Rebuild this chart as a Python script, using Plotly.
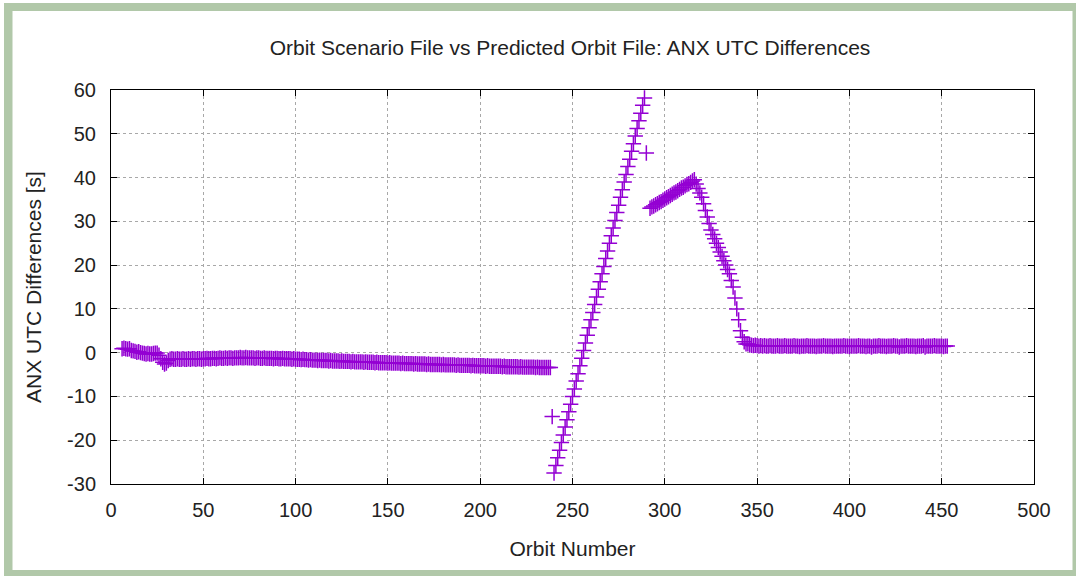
import plotly.graph_objects as go

# ---- data ----
# Part A: orbits 6 .. 290 (one value per orbit)
part_a_start = 6
part_a_values = [
    0.9, 1.0, 0.9, 0.8, 0.9, 0.5, 0.4, 0.3, 0.1, 0.2,
    0.0, -0.1, -0.2, -0.3, -0.2, -0.3, -0.3, -0.2, -0.1, -0.1,
    -0.6, -1.4, -2.2, -2.6, -2.4, -1.8, -1.5, -1.4, -1.5, -1.5,
    -1.4, -1.5, -1.5, -1.4, -1.5, -1.5, -1.4, -1.5, -1.4, -1.4,
    -1.5, -1.4, -1.4, -1.5, -1.4, -1.4, -1.3, -1.4, -1.4, -1.3,
    -1.3, -1.4, -1.3, -1.2, -1.3, -1.3, -1.2, -1.3, -1.2, -1.2,
    -1.3, -1.2, -1.2, -1.2, -1.1, -1.2, -1.2, -1.1, -1.2, -1.2,
    -1.2, -1.2, -1.3, -1.2, -1.2, -1.3, -1.3, -1.2, -1.3, -1.3,
    -1.3, -1.3, -1.4, -1.3, -1.3, -1.4, -1.4, -1.3, -1.4, -1.4,
    -1.4, -1.4, -1.5, -1.4, -1.5, -1.5, -1.5, -1.6, -1.5, -1.6,
    -1.6, -1.7, -1.6, -1.7, -1.7, -1.7, -1.8, -1.7, -1.8, -1.8,
    -1.8, -1.8, -1.9, -1.8, -1.9, -1.9, -1.9, -1.9, -2.0, -1.9,
    -2.0, -2.0, -2.0, -2.0, -2.1, -2.0, -2.1, -2.1, -2.1, -2.1,
    -2.1, -2.2, -2.1, -2.2, -2.2, -2.2, -2.2, -2.3, -2.2, -2.3,
    -2.3, -2.3, -2.3, -2.3, -2.4, -2.3, -2.4, -2.4, -2.4, -2.4,
    -2.4, -2.5, -2.4, -2.5, -2.5, -2.5, -2.5, -2.5, -2.6, -2.5,
    -2.6, -2.6, -2.6, -2.6, -2.6, -2.7, -2.6, -2.7, -2.7, -2.7,
    -2.7, -2.7, -2.7, -2.8, -2.7, -2.8, -2.8, -2.8, -2.8, -2.8,
    -2.8, -2.9, -2.8, -2.9, -2.9, -2.9, -2.9, -2.9, -2.9, -3.0,
    -2.9, -3.0, -3.0, -3.0, -3.0, -3.0, -3.0, -3.1, -3.0, -3.1,
    -3.1, -3.1, -3.1, -3.1, -3.1, -3.1, -3.2, -3.1, -3.2, -3.2,
    -3.2, -3.2, -3.2, -3.2, -3.2, -3.3, -3.2, -3.3, -3.3, -3.3,
    -3.3, -3.3, -3.3, -3.3, -3.4, -3.3, -3.4, -3.4, -3.4, -3.4,
    -3.4, -3.4, -3.4,
    -14.6,
    -27.5, -25.8, -24.0, -22.3, -20.5, -18.8, -17.0, -15.3, -13.5, -11.8,
    -10.0, -8.3, -6.5, -4.8, -3.0, -1.3, 0.5, 2.2, 4.0, 5.7,
    7.5, 9.2, 11.0, 12.7, 14.5, 16.2, 18.0, 19.7, 21.5, 23.2,
    25.0, 26.7, 28.5, 30.2, 32.0, 33.7, 35.5, 37.2, 39.0, 40.7,
    42.5, 44.2, 46.0, 47.7, 49.5, 51.2, 53.0, 54.7, 56.5, 58.2,
    45.6,
]

# Part B: orbits 292 .. 453 (one value per orbit)
part_b_start = 292
part_b_values = [
    33.0, 33.3, 33.5, 33.8, 34.0, 34.3, 34.5, 34.8, 35.1, 35.4,
    35.6, 35.9, 36.2, 36.5, 36.7, 37.0, 37.3, 37.6, 37.8, 38.1,
    38.4, 38.6, 38.9, 39.2, 39.5,
    38.5, 37.5, 36.5, 35.5, 34.0, 32.5, 31.0, 29.5, 28.0, 27.0,
    26.0, 25.0, 24.0, 23.0, 22.0, 21.0, 20.0, 19.0, 18.0, 16.5,
    15.0, 12.5, 10.0, 7.5, 5.0, 3.5, 2.5, 2.0,
    2.0, 1.8, 1.7, 1.6, 1.7, 1.6, 1.5, 1.6, 1.5, 1.6,
    1.5, 1.5, 1.6, 1.5, 1.5, 1.5, 1.6, 1.5, 1.5, 1.5,
    1.6, 1.5, 1.5, 1.5, 1.5, 1.6, 1.5, 1.5, 1.4, 1.5,
    1.5, 1.5, 1.6, 1.5, 1.5, 1.5, 1.5, 1.4, 1.5, 1.5,
    1.5, 1.6, 1.5, 1.5, 1.5, 1.5, 1.4, 1.5, 1.5, 1.5,
    1.5, 1.5, 1.6, 1.5, 1.5, 1.4, 1.5, 1.5, 1.5, 1.5,
    1.6, 1.5, 1.5, 1.5, 1.4, 1.5, 1.5, 1.3, 1.5, 1.5,
    1.5, 1.6, 1.5, 1.5, 1.5, 1.4, 1.5, 1.5, 1.5, 1.6,
    1.5, 1.5, 1.3, 1.5, 1.5, 1.5, 1.6, 1.5, 1.5, 1.5,
    1.5, 1.4, 1.5, 1.5, 1.5, 1.6, 1.3, 1.5, 1.5, 1.5,
    1.5, 1.6, 1.5, 1.5, 1.5, 1.5, 1.4, 1.5, 1.5,
]

x_ticks = [0, 50, 100, 150, 200, 250, 300, 350, 400, 450, 500]
x_tick_labels = ["0", "50", "100", "150", "200", "250", "300", "350", "400", "450", "500"]
y_ticks = [-30, -20, -10, 0, 10, 20, 30, 40, 50, 60]
y_tick_labels = ["-30", "-20", "-10", "0", "10", "20", "30", "40", "50", "60"]

title_text = "Orbit Scenario File vs Predicted Orbit File: ANX UTC Differences"
x_title = "Orbit Number"
y_title = "ANX UTC Differences [s]"

# ---- build ----
orbits = list(range(part_a_start, part_a_start + len(part_a_values))) + \
         list(range(part_b_start, part_b_start + len(part_b_values)))
values = part_a_values + part_b_values

W, H = 1076, 576
L, R, T, B = 111, 1034, 90, 484
PW, PH = R - L, B - T

def px(x):
    return (x - L) / PW

def py(y):
    return (B - y) / PH

violet = "#9400d3"
font_family = "Liberation Sans, Arial, sans-serif"
text_color = "#222222"

fig = go.Figure()
fig.add_trace(go.Scatter(
    x=orbits, y=values, mode="markers",
    marker=dict(symbol="cross-thin", size=11, color=violet,
                line=dict(width=1.5, color=violet)),
    showlegend=False, hoverinfo="skip",
))

frame_color = "#b1c8a9"
shapes = [
    dict(type="rect", xref="paper", yref="paper", x0=px(4), x1=px(12.5), y0=py(576), y1=py(3), fillcolor=frame_color, line_width=0, layer="below"),
    dict(type="rect", xref="paper", yref="paper", x0=px(4), x1=px(1076), y0=py(11), y1=py(3), fillcolor=frame_color, line_width=0, layer="below"),
    dict(type="rect", xref="paper", yref="paper", x0=px(1072.5), x1=px(1076), y0=py(576), y1=py(3), fillcolor=frame_color, line_width=0, layer="below"),
    dict(type="rect", xref="paper", yref="paper", x0=px(4), x1=px(1076), y0=py(576), y1=py(570), fillcolor=frame_color, line_width=0, layer="below"),
]

axis_common = dict(
    showline=True, linecolor="#000000", linewidth=1, mirror="ticks",
    ticks="inside", ticklen=6, tickwidth=1, tickcolor="#000000",
    showgrid=True, gridcolor="#a8a8a8", gridwidth=1, griddash="dot",
    zeroline=False,
    tickfont=dict(family=font_family, size=20, color=text_color),
    title_font=dict(family=font_family, size=21, color=text_color),
)

fig.update_layout(
    width=W, height=H,
    margin=dict(l=L, r=W - R, t=T, b=H - B, pad=0),
    paper_bgcolor="white", plot_bgcolor="white",
    hovermode=False,
    title=dict(text=title_text, x=px(570), xref="paper", xanchor="center",
               y=1 - 48 / H, yref="container", yanchor="middle",
               font=dict(family=font_family, size=21, color=text_color)),
    xaxis=dict(range=[0, 500], tickvals=x_ticks, ticktext=x_tick_labels, ticklabelstandoff=8,
               title=dict(text=x_title, standoff=21), **axis_common),
    yaxis=dict(range=[-30, 60], tickvals=y_ticks, ticktext=y_tick_labels, ticklabelstandoff=10,
               title=dict(text=y_title, standoff=19), **axis_common),
    shapes=shapes,
)

fig.write_html("out.html", config={"displayModeBar": False},
               post_script="document.body.style.margin='0';document.body.style.overflow='hidden';")
